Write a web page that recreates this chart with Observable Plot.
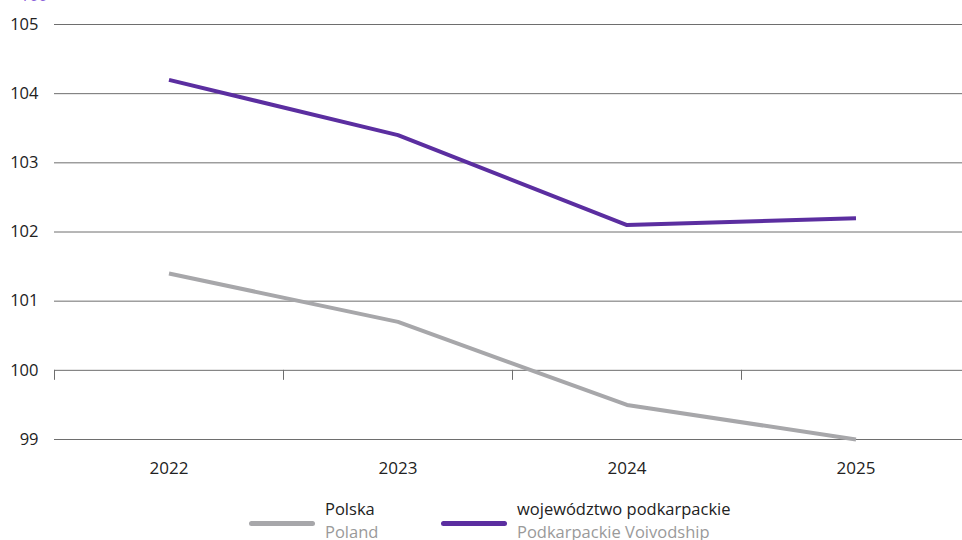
<!DOCTYPE html>
<html>
<head>
<meta charset="utf-8">
<script src="https://cdn.jsdelivr.net/npm/d3@7"></script>
<script src="https://cdn.jsdelivr.net/npm/@observablehq/plot@0.6"></script>
<style>
  html, body { margin: 0; padding: 0; background: #fff; }
  body { width: 962px; height: 540px; overflow: hidden; position: relative; font-family: "Open Sans", sans-serif; }
  #topnote { position: absolute; left: 20px; top: -14px; color: #8a5cd8; font-size: 16px; line-height: 18px; }
  #legend { position: absolute; left: 0; top: 478px; width: 962px; height: 62px; }
  .item { position: absolute; top: 19px; display: flex; align-items: flex-start; }
  .swatch { width: 66px; height: 5px; border-radius: 3px; margin-top: 24px; margin-right: 10px; }
  .lbl { font-size: 16.5px; line-height: 23px; color: #222; white-space: nowrap; }
  .lbl .en { color: #9a9a9a; }
</style>
</head>
<body>
<div id="topnote">100</div>
<div id="chart"></div>
<div id="legend"></div>
<script>
const years = [2022, 2023, 2024, 2025];
const polska = [101.4, 100.7, 99.5, 99.0];
const podkarpackie = [104.2, 103.4, 102.1, 102.2];
const yTicks = [99, 100, 101, 102, 103, 104, 105];
const seriesNames = ["Polska", "województwo podkarpackie"];
const seriesNamesEn = ["Poland", "Podkarpackie Voivodship"];
const colors = ["#a7a7aa", "#5b2ea0"];

const data = [];
years.forEach((yr, i) => {
  data.push({year: yr, value: polska[i], series: seriesNames[0]});
  data.push({year: yr, value: podkarpackie[i], series: seriesNames[1]});
});

const H = 478, mTop = 24, mBottom = 39;
const pxPerUnit = (H - mTop - mBottom) / (yTicks[yTicks.length - 1] - yTicks[0]);
const tickLen = 10 / pxPerUnit;
const boundaries = years.map(y => y - 0.5);

const chart = Plot.plot({
  width: 962,
  height: H,
  marginTop: mTop,
  marginBottom: mBottom,
  marginLeft: 54,
  marginRight: 0,
  style: { fontFamily: "Open Sans, sans-serif", fontSize: "16.5px", color: "#222", background: "#fff" },
  x: { domain: [years[0] - 0.5, years[years.length - 1] + 0.5], range: [54, 970] },
  y: { domain: [yTicks[0], yTicks[yTicks.length - 1]] },
  marks: [
    Plot.ruleY(yTicks, { stroke: "#6e6e6e", strokeWidth: 1, x1: years[0] - 0.5, x2: years[years.length - 1] + 0.5 }),
    Plot.ruleX(boundaries, { y1: 100, y2: 100 - tickLen, stroke: "#6e6e6e", strokeWidth: 1 }),
    Plot.axisY({ ticks: yTicks, tickSize: 0, tickPadding: 16, label: null, tickFormat: d => String(d), fontSize: 16.5, fill: "#222" }),
    Plot.axisX({ ticks: years, tickSize: 0, tickPadding: 22, label: null, tickFormat: d => String(d), fontSize: 17, fill: "#222" }),
    Plot.line(data, { x: "year", y: "value", z: "series", stroke: "series", strokeWidth: 4, strokeLinejoin: "miter", strokeLinecap: "butt" })
  ],
  color: { domain: seriesNames, range: colors }
});
document.getElementById("chart").appendChild(chart);

const legend = document.getElementById("legend");
const lefts = [249, 441];
seriesNames.forEach((name, i) => {
  const item = document.createElement("div");
  item.className = "item";
  item.style.left = lefts[i] + "px";
  item.innerHTML = `<div class="swatch" style="background:${colors[i]}"></div><div class="lbl"><div>${name}</div><div class="en">${seriesNamesEn[i]}</div></div>`;
  legend.appendChild(item);
});
</script>
</body>
</html>
